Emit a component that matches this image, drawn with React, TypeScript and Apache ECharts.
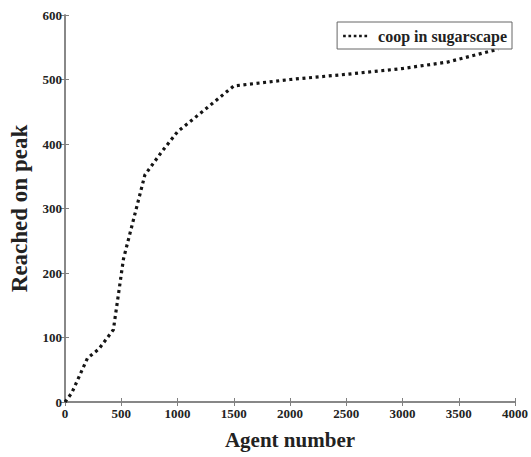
import React, { useEffect, useRef } from "react";
import * as echarts from "echarts";

const agentNumbers = [0, 60, 200, 300, 430, 520, 710, 860, 1000, 1220, 1500, 2000, 2500, 3000, 3400, 3850];
const reachedOnPeak = [0, 14, 68, 82, 112, 222, 352, 388, 419, 450, 490, 500, 508, 517, 527, 547];
const seriesName = "coop in sugarscape";
const xTicks = [0, 500, 1000, 1500, 2000, 2500, 3000, 3500, 4000];
const yTicks = [0, 100, 200, 300, 400, 500, 600];

export default function App() {
  const ref = useRef<HTMLDivElement>(null);
  useEffect(() => {
    if (!ref.current) return;
    const chart = echarts.init(ref.current, undefined, { renderer: "svg" });
    const font = "'Liberation Serif', 'Times New Roman', serif";
    const axisColor = "#808080";
    const data = agentNumbers.map((x, i) => [x, reachedOnPeak[i]]);
    const xMin = xTicks[0];
    const xMax = xTicks[xTicks.length - 1];
    const yMin = yTicks[0];
    const yMax = yTicks[yTicks.length - 1];
    const dotsIcon =
      "path://M0,0h3v3h-3z M6,0h3v3h-3z M12,0h3v3h-3z M18,0h3v3h-3z M24,0h3v3h-3z";
    chart.setOption({
      animation: false,
      backgroundColor: "#fff",
      grid: { left: 62, right: 15, top: 15, bottom: 55 },
      legend: {
        right: 19,
        top: 22,
        data: [{ name: seriesName, icon: dotsIcon }],
        orient: "vertical",
        backgroundColor: "#fff",
        borderColor: "#666",
        borderWidth: 1,
        borderRadius: 0,
        padding: [6, 5, 5, 6],
        itemWidth: 24,
        itemHeight: 3,
        itemGap: 4,
        itemStyle: { color: "#151515" },
        textStyle: { fontFamily: font, fontWeight: "bold", fontSize: 16, color: "#222", padding: [0, 0, 0, 6] },
      },
      xAxis: [
        {
          type: "value",
          min: xMin,
          max: xMax,
          interval: 500,
          name: "Agent number",
          nameLocation: "middle",
          nameGap: 27,
          nameTextStyle: { fontFamily: font, fontWeight: "bold", fontSize: 21, color: "#222" },
          axisLine: { show: true, lineStyle: { color: axisColor, width: 1.5 } },
          axisTick: { show: true, inside: true, length: 4, lineStyle: { color: axisColor } },
          axisLabel: {
            fontFamily: font,
            fontWeight: "bold",
            fontSize: 13,
            color: "#222",
            margin: 5,
            formatter: (v: number) => String(v),
          },
          splitLine: { show: false },
        },
        {
          type: "value",
          position: "top",
          min: xMin,
          max: xMax,
          interval: 500,
          axisLine: { show: true, lineStyle: { color: axisColor, width: 1.5 } },
          axisTick: { show: true, inside: true, length: 4, lineStyle: { color: axisColor } },
          axisLabel: { show: false },
          splitLine: { show: false },
        },
      ],
      yAxis: [
        {
          type: "value",
          min: yMin,
          max: yMax,
          interval: 100,
          name: "Reached on peak",
          nameLocation: "middle",
          nameGap: 34,
          nameTextStyle: { fontFamily: font, fontWeight: "bold", fontSize: 23, color: "#222" },
          axisLine: { show: true, lineStyle: { color: axisColor, width: 1.5 } },
          axisTick: { show: true, inside: true, length: 4, lineStyle: { color: axisColor } },
          axisLabel: {
            fontFamily: font,
            fontWeight: "bold",
            fontSize: 13,
            color: "#222",
            margin: 3,
            formatter: (v: number) => String(v),
          },
          splitLine: { show: false },
        },
        {
          type: "value",
          position: "right",
          min: yMin,
          max: yMax,
          interval: 100,
          axisLine: { show: true, lineStyle: { color: axisColor, width: 1.5 } },
          axisTick: { show: true, inside: true, length: 4, lineStyle: { color: axisColor } },
          axisLabel: { show: false },
          splitLine: { show: false },
        },
      ],
      series: [
        {
          name: seriesName,
          type: "line",
          data,
          showSymbol: false,
          symbol: "none",
          smooth: false,
          lineStyle: { color: "#151515", width: 3.2, type: [3, 3.6] },
          itemStyle: { color: "#151515" },
          z: 2,
        },
      ],
    });
    return () => chart.dispose();
  }, []);
  return (
    <div
      ref={ref}
      style={{ position: "fixed", left: 0, top: 0, width: 531, height: 457, background: "#fff" }}
    />
  );
}
